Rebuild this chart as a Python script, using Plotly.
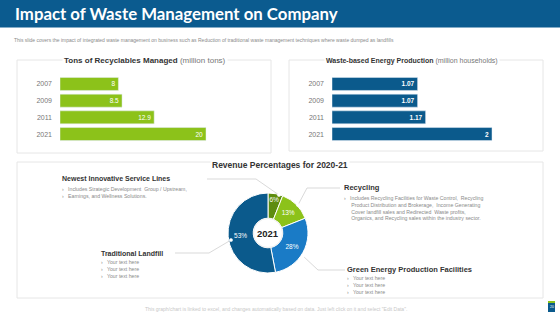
import plotly.graph_objects as go

W, H = 560, 315

years = ["2007", "2009", "2011", "2021"]
recyclables = [8, 8.5, 12.9, 20]
energy = [1.07, 1.07, 1.17, 2]
rev_labels = ["Newest Innovative Service Lines", "Recycling", "Green Energy Production Facilities", "Traditional Landfill"]
rev_values = [6, 13, 28, 53]

GREEN = "#8CC21A"
DGREEN = "#5E8C0F"
BLUE = "#0B5A8C"
MBLUE = "#1A7BC6"
TITLEBG = "#0B5B8F"


def px(x):
    return x / W


def py(y):
    return 1 - y / H


fig = go.Figure()

# Left bar chart
fig.add_trace(go.Bar(
    x=recyclables, y=years, orientation="h", marker_color=GREEN, width=0.78,
    text=[str(v) for v in recyclables], textposition="inside", insidetextanchor="end",
    textfont=dict(color="white", size=6.5, family="Arial"), xaxis="x", yaxis="y",
    hoverinfo="skip", showlegend=False))

# Right bar chart
fig.add_trace(go.Bar(
    x=energy, y=years, orientation="h", marker_color=BLUE, width=0.78,
    text=[f"<b>{v:g}</b>" for v in energy], textposition="inside", insidetextanchor="end",
    textfont=dict(color="white", size=6.5, family="Arial"), xaxis="x2", yaxis="y2",
    hoverinfo="skip", showlegend=False))

# Donut
cx, cy, r = 268, 233, 40
fig.add_trace(go.Pie(
    labels=rev_labels, values=rev_values, hole=0.37, sort=False, direction="clockwise",
    rotation=0, marker=dict(colors=[DGREEN, GREEN, MBLUE, BLUE], line=dict(color="white", width=1)),
    text=[f"{v}%" for v in rev_values], textinfo="text", textposition="inside",
    insidetextorientation="horizontal",
    textfont=dict(color="white", size=6.5, family="Arial"),
    domain=dict(x=[px(cx - r), px(cx + r)], y=[py(cy + r), py(cy - r)]),
    showlegend=False, hoverinfo="skip"))

ydom = [py(142.4), py(75.6)]
layout_axes = dict(
    xaxis=dict(domain=[px(60), px(250)], range=[0, 190 / 7.3], visible=False, fixedrange=True),
    yaxis=dict(domain=ydom, autorange="reversed", showgrid=False, zeroline=False, showline=False,
               tickfont=dict(size=7, color="#777777", family="Arial"), ticks="", ticklabelstandoff=7),
    xaxis2=dict(domain=[px(332), px(535)], range=[0, 203 / 80], visible=False, fixedrange=True),
    yaxis2=dict(domain=ydom, autorange="reversed", showgrid=False, zeroline=False, showline=False,
                tickfont=dict(size=7, color="#777777", family="Arial"), ticks="", ticklabelstandoff=7,
                anchor="x2"),
)

shapes = []
# title bar
shapes.append(dict(type="rect", xref="paper", yref="paper", x0=0, x1=1, y0=py(27.5), y1=1,
                   fillcolor=TITLEBG, line_width=0, layer="below"))
# panel boxes
for (x0, y0, x1, y1) in [(17, 60, 271, 153), (289, 60, 543, 151), (17, 162, 543, 298)]:
    shapes.append(dict(type="rect", xref="paper", yref="paper", x0=px(x0), x1=px(x1), y0=py(y1), y1=py(y0),
                       fillcolor="white", line=dict(color="#E6E6E6", width=1), layer="below"))

# connector lines
LC = "#CFCFCF"
lines = [
    [(207, 179), (256, 179), (279, 195)],
    [(175, 253), (209, 253), (231, 240)],
    [(340, 188), (307, 188), (298, 205)],
    [(345, 270), (318, 270), (303, 256)],
]
for pts in lines:
    for (a, b) in zip(pts[:-1], pts[1:]):
        shapes.append(dict(type="line", xref="paper", yref="paper", x0=px(a[0]), y0=py(a[1]),
                           x1=px(b[0]), y1=py(b[1]), line=dict(color=LC, width=0.8)))
    ex, ey = pts[-1]
    shapes.append(dict(type="circle", xref="paper", yref="paper", x0=px(ex - 1.6), x1=px(ex + 1.6),
                       y0=py(ey + 1.6), y1=py(ey - 1.6), fillcolor="white", line=dict(color="white", width=0.5)))

# center circle
shapes.append(dict(type="circle", xref="paper", yref="paper", x0=px(cx - 14.5), x1=px(cx + 14.5),
                   y0=py(cy + 14.5), y1=py(cy - 14.5), fillcolor="white", line=dict(color="#EEEEEE", width=1)))

# page icon
shapes.append(dict(type="rect", xref="paper", yref="paper", x0=px(548), x1=px(555), y0=py(312), y1=py(301),
                   fillcolor=BLUE, line_width=0))
shapes.append(dict(type="rect", xref="paper", yref="paper", x0=px(548), x1=px(555), y0=py(303), y1=py(301),
                   fillcolor=GREEN, line_width=0))

ann = []


def A(x, y, text, size, color="#333333", xanchor="left", family="Arial", bg=None, yanchor="middle", align="left",
      weight=None):
    font = dict(size=size, color=color, family=family)
    if weight:
        font["weight"] = weight
    d = dict(x=px(x), y=py(y), xref="paper", yref="paper", text=text, showarrow=False,
             font=font, xanchor=xanchor, yanchor=yanchor, align=align)
    if bg:
        d["bgcolor"] = bg
    ann.append(d)


A(13, 14, "Impact of Waste Management on Company", 16.8, "white", family="Lato", weight=700)
A(12, 40, "This slide covers the impact of integrated waste management on business such as Reduction of traditional waste management techniques where waste dumped as landfills",
  5, "#8A8A8A")
A(145, 61, "<b>Tons of Recyclables Managed</b><span style='color:#777777'> (million tons)</span>", 8,
  "#333333", xanchor="center", bg="white")
A(412, 61, "<b>Waste-based Energy Production</b><span style='color:#777777'> (million households)</span>", 7,
  "#333333", xanchor="center", bg="white")
A(280, 165, "<b>Revenue Percentages for 2020-21</b>", 8.5, "#333333", xanchor="center", bg="white")
A(cx, cy, "<b>2021</b>", 9.5, "#222222", xanchor="center")

A(60, 178, "<b>Newest Innovative Service Lines</b>", 7, "#333333")
A(60, 192, "›   Includes Strategic Development  Group / Upstream,<br>›   Earnings, and Wellness Solutions.",
  5.2, "#8A8A8A", yanchor="middle")
A(99, 253, "<b>Traditional Landfill</b>", 7, "#333333")
A(99, 269, "›   Your text here<br>›   Your text here<br>›   Your text here", 5.2, "#8A8A8A")
A(342, 187, "<b>Recycling</b>", 7.5, "#333333")
A(342, 208, "›   Includes Recycling Facilities for Waste Control,  Recycling<br>     Product Distribution and Brokerage,  Income Generating<br>     Cover landfill sales and Redirected  Waste profits,<br>     Organics, and Recycling sales within the industry sector.",
  5.2, "#8A8A8A")
A(345, 269, "<b>Green Energy Production Facilities</b>", 7.5, "#333333")
A(345, 285, "›   Your text here<br>›   Your text here<br>›   Your text here", 5.2, "#8A8A8A")
A(276, 309, "This graph/chart is linked to excel, and changes automatically based on data. Just left click on it and select \"Edit Data\".",
  5, "#C8C8C8", xanchor="center")
A(551.5, 307, "20", 3.5, "white", xanchor="center")

fig.update_layout(
    width=W, height=H, margin=dict(l=0, r=0, t=0, b=0),
    paper_bgcolor="white", plot_bgcolor="rgba(0,0,0,0)",
    shapes=shapes, annotations=ann, bargap=0.2, **layout_axes,
)

fig.write_html("out.html")
